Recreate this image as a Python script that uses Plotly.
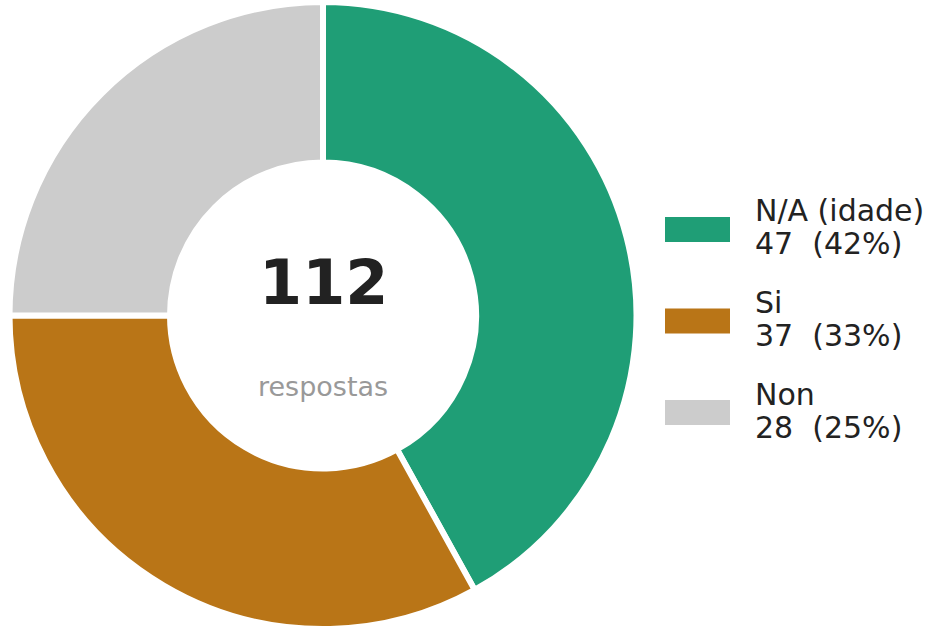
import plotly.graph_objects as go

labels = ["N/A (idade)", "Si", "Non"]
values = [47, 37, 28]
colors = ["#1f9e76", "#b97517", "#cccccc"]
center_label = "respostas"

total = sum(values)
W, H = 933, 629

fig = go.Figure()
fig.add_trace(go.Pie(
    labels=labels, values=values, hole=0.488, sort=False, direction="clockwise",
    rotation=0, textinfo="none", showlegend=False,
    marker=dict(colors=colors, line=dict(color="white", width=6)),
    domain=dict(x=[(323 - 313.5) / W, (323 + 313.5) / W], y=[0, 1 - 2 / H]),
))

font = "DejaVu Sans"
annotations = [
    dict(x=323 / W, y=1 - 282 / H, text=f"<b>{total}</b>", showarrow=False,
         font=dict(family=font, size=62, color="#222222"), xanchor="center", yanchor="middle"),
    dict(x=323 / W, y=1 - 386 / H, text=center_label, showarrow=False,
         font=dict(family=font, size=27, color="#999999"), xanchor="center", yanchor="middle"),
]
shapes = []
top0, step = 217, 91.5
for i, (lab, v, c) in enumerate(zip(labels, values, colors)):
    t = top0 + i * step
    shapes.append(dict(type="rect", xref="paper", yref="paper",
                       x0=665 / W, x1=730 / W, y0=1 - (t + 25) / H, y1=1 - t / H,
                       fillcolor=c, line=dict(width=0)))
    pct = round(100 * v / total)
    annotations.append(dict(x=753 / W, y=1 - (t - 6) / H, text=lab, showarrow=False,
                            font=dict(family=font, size=30, color="#222222"),
                            xanchor="left", yanchor="middle"))
    annotations.append(dict(x=753 / W, y=1 - (t + 27) / H, text=f"{v}\u00a0\u00a0({pct}%)", showarrow=False,
                            font=dict(family=font, size=30, color="#222222"),
                            xanchor="left", yanchor="middle"))

fig.update_layout(width=W, height=H, margin=dict(l=0, r=0, t=0, b=0),
                  paper_bgcolor="white", plot_bgcolor="white",
                  annotations=annotations, shapes=shapes)
fig.write_html("out.html", config={"displayModeBar": False},
               post_script="document.body.style.margin='0px';")
